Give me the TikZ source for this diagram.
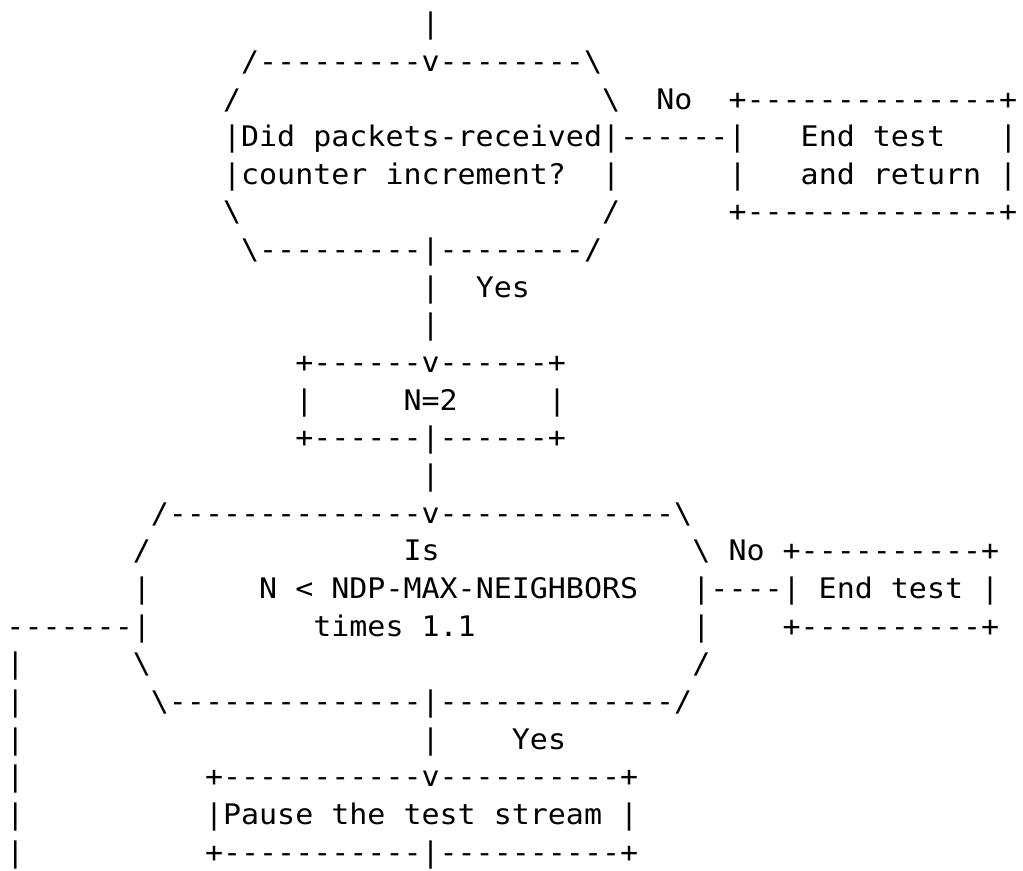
\documentclass[tikz,border=0pt]{standalone}
\usepackage{fontspec}
\setmonofont[FakeStretch=1.058]{DejaVu Sans Mono}
\usepackage{tikz}

\tikzset{ascii/.style={anchor=base west, inner sep=0pt, outer sep=0pt, font=\ttfamily\fontsize{8.5}{10}\selectfont}}

\begin{document}
\begin{tikzpicture}[x=5.415pt, y=11.295pt]
	\useasboundingbox (0,0) rectangle (56.676,-23.134);
	\begin{scope}[shift={(0.36,0.1036)}]
		\node[ascii] (in) at (23,-1) {|};
		\node[ascii] (askTop) at (13,-2) {/---------v--------\textbackslash};
		\node[ascii] (askUL) at (12,-3) {/};
		\node[ascii] (askUR) at (33,-3) {\textbackslash};
		\node[ascii] (noA) at (36,-3) {No};
		\node[ascii] (endATop) at (40,-3) {+--------------+};
		\node[ascii] (askA) at (12,-4) {|Did packets-received|------|};
		\node[ascii] (endA) at (44,-4) {End test};
		\node[ascii] (endAR) at (55,-4) {|};
		\node[ascii] (askB) at (12,-5) {|counter increment?};
		\node[ascii] (askBR) at (33,-5) {|};
		\node[ascii] (endBL) at (40,-5) {|};
		\node[ascii] (endB) at (44,-5) {and return |};
		\node[ascii] (askLL) at (12,-6) {\textbackslash};
		\node[ascii] (askLR) at (33,-6) {/};
		\node[ascii] (endABot) at (40,-6) {+--------------+};
		\node[ascii] (askBot) at (13,-7) {\textbackslash---------|--------/};
		\node[ascii] (yesAL) at (23,-8) {|};
		\node[ascii] (yesA) at (26,-8) {Yes};
		\node[ascii] (yesAB) at (23,-9) {|};
		\node[ascii] (setTop) at (16,-10) {+------v------+};
		\node[ascii] (setL) at (16,-11) {|};
		\node[ascii] (setN) at (22,-11) {N=2};
		\node[ascii] (setR) at (30,-11) {|};
		\node[ascii] (setBot) at (16,-12) {+------|------+};
		\node[ascii] (setOut) at (23,-13) {|};
		\node[ascii] (cmpTop) at (8,-14) {/--------------v-------------\textbackslash};
		\node[ascii] (cmpUL) at (7,-15) {/};
		\node[ascii] (cmpIs) at (22,-15) {Is};
		\node[ascii] (cmpUR) at (38,-15) {\textbackslash};
		\node[ascii] (noB) at (40,-15) {No};
		\node[ascii] (endCTop) at (43,-15) {+----------+};
		\node[ascii] (cmpL) at (7,-16) {|};
		\node[ascii] (cmpA) at (14,-16) {N < NDP-MAX-NEIGHBORS};
		\node[ascii] (endC) at (38,-16) {|----| End test |};
		\node[ascii] (loopIn) at (0,-17) {-------|};
		\node[ascii] (cmpB) at (17,-17) {times 1.1};
		\node[ascii] (cmpR) at (38,-17) {|};
		\node[ascii] (endCBot) at (43,-17) {+----------+};
		\node[ascii] (cmpLL) at (7,-18) {\textbackslash};
		\node[ascii] (cmpLR) at (38,-18) {/};
		\node[ascii] (cmpBot) at (8,-19) {\textbackslash--------------|-------------/};
		\node[ascii] (yesBL) at (23,-20) {|};
		\node[ascii] (yesB) at (28,-20) {Yes};
		\node[ascii] (pauseTop) at (11,-21) {+-----------v----------+};
		\node[ascii] (pause) at (11,-22) {|Pause the test stream |};
		\node[ascii] (pauseBot) at (11,-23) {+-----------|----------+};
		\foreach \r in {18,...,23}
			\node[ascii] (loop\r) at (0,-\r) {|};
	\end{scope}
\end{tikzpicture}
\end{document}
